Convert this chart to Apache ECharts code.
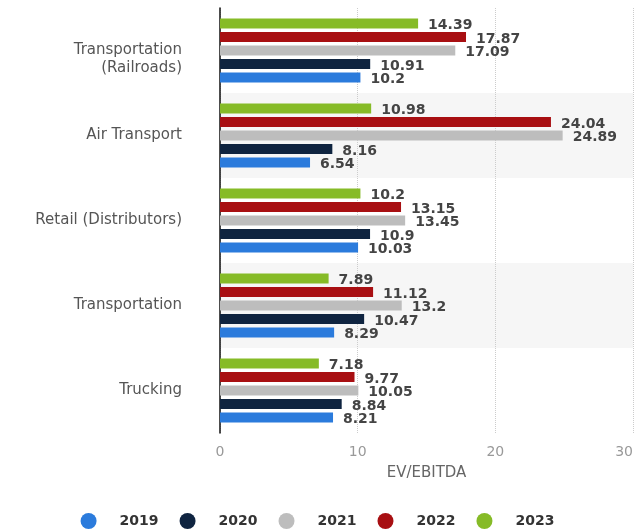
<!DOCTYPE html>
<html><head><meta charset="utf-8">
<script src="https://cdn.jsdelivr.net/npm/echarts@6/dist/echarts.min.js"></script>
<style>html,body{margin:0;padding:0;background:#fff;overflow:hidden}#c{width:635px;height:531px;display:block}</style>
</head><body><div id="c"></div>
<script>
// categories listed bottom-to-top
const categories = ['Trucking', 'Transportation', 'Retail (Distributors)', 'Air Transport', 'Transportation\n(Railroads)'];
const years = ['2019', '2020', '2021', '2022', '2023'];
const v2019 = [8.21, 8.29, 10.03, 6.54, 10.2];
const v2020 = [8.84, 10.47, 10.9, 8.16, 10.91];
const v2021 = [10.05, 13.2, 13.45, 24.89, 17.09];
const v2022 = [9.77, 11.12, 13.15, 24.04, 17.87];
const v2023 = [7.18, 7.89, 10.2, 10.98, 14.39];
const xTicks = [0, 10, 20, 30];
const colors = ['#2b7bdc', '#0f2440', '#bdbdbd', '#a80f12', '#86bb27'];
const values = [v2019, v2020, v2021, v2022, v2023];

const FONT = '"DejaVu Sans"';
const chart = echarts.init(document.getElementById('c'), null, { width: 635, height: 531 });
// series drawn top-to-bottom within a group: 2023 first
const order = [4, 3, 2, 1, 0];
chart.setOption({
  animation: false,
  textStyle: { fontFamily: FONT },
  grid: { left: 220, right: 2, top: 8, height: 425, containLabel: false, outerBoundsMode: 'none' },
  legend: {
    bottom: -3, left: 'center', icon: 'circle', itemWidth: 20, itemHeight: 16, itemGap: 21,
    textStyle: { fontSize: 14, fontWeight: 'bold', color: '#333', fontFamily: FONT, padding: [0, 0, 0, 16] },
    data: years
  },
  xAxis: {
    type: 'value', min: 0, max: 30, interval: 10,
    name: 'EV/EBITDA', nameLocation: 'middle', nameGap: 33,
    nameTextStyle: { color: '#666', fontSize: 15, fontFamily: FONT },
    axisLine: { show: false }, axisTick: { show: false },
    axisLabel: { color: '#999', fontSize: 14, margin: 12, fontFamily: FONT, alignMaxLabel: 'right',
      formatter: v => xTicks.includes(v) ? String(v) : '' },
    splitLine: { show: true, lineStyle: { type: 'dotted', color: '#ccc' } }
  },
  yAxis: {
    type: 'category', data: categories,
    axisLine: { show: true, lineStyle: { color: '#111', width: 1.5 } },
    axisTick: { show: false },
    axisLabel: { color: '#555', fontSize: 15, margin: 38, lineHeight: 18, align: 'right', fontFamily: FONT,
      formatter: v => v.indexOf('\n') >= 0 ? '\n' + v : v },
    splitArea: { show: true, areaStyle: { color: ['#ffffff', '#f6f6f6'] } }
  },
  series: order.map(i => ({
    name: years[i], type: 'bar', data: values[i],
    itemStyle: { color: colors[i] },
    barWidth: 10, barGap: '35%', barCategoryGap: '25%',
    label: { show: true, position: 'right', distance: 10, fontSize: 14, fontWeight: 'bold', color: '#444', offset: [0, 2], fontFamily: FONT }
  }))
});
</script></body></html>
